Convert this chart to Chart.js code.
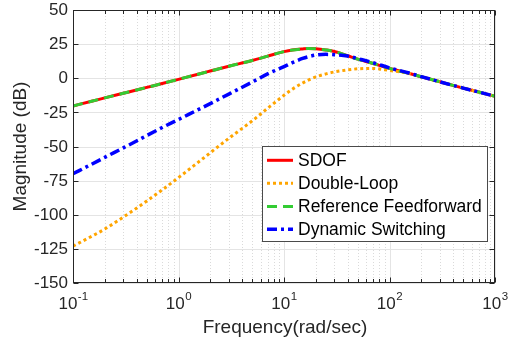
<!DOCTYPE html>
<html><head><meta charset="utf-8">
<script src="https://cdn.jsdelivr.net/npm/chart.js@4"></script>
<style>html,body{margin:0;padding:0;background:#fff}#wrap{width:519px;height:343px}</style>
</head><body><div id="wrap"><canvas id="c" width="519" height="343"></canvas></div>
<script>
// ---- data ----
const freq = [0.1,0.15,0.2,0.3,0.4,0.5,0.7,1,1.5,2,3,5,7,10,12,15,17,20,25,30,40,50,70,100,150,200,300,500,700,1000];
const sdof = [-20.3,-16.9,-14.4,-11.0,-8.6,-6.7,-3.9,-0.8,2.8,5.3,8.8,13.0,16.2,19.5,20.7,21.5,21.8,21.6,20.7,19.6,16.5,14.0,10.8,7.2,3.8,1.1,-2.6,-7.2,-10.1,-13.2];
const doubleLoop = [-123,-115.8,-110.5,-101.7,-95.2,-90,-81.8,-72.8,-62.2,-54.6,-44,-31.2,-22,-12.5,-8,-3.5,-1.3,1.0,3.2,4.6,6.1,6.9,7.2,5.7,3.7,1.1,-2.6,-7.2,-10.1,-13.2];
const refFF = [-20.3,-16.9,-14.4,-11.0,-8.6,-6.7,-3.9,-0.8,2.8,5.3,8.8,13.0,16.2,19.5,20.7,21.5,21.8,21.6,20.7,19.6,16.5,14.0,10.8,7.2,3.8,1.1,-2.6,-7.2,-10.1,-13.2];
const dynSwitch = [-70,-63,-58,-51,-46,-42,-36.1,-30.2,-23.4,-18.6,-11.6,-2.8,3.2,8.5,11.4,14.5,15.8,17.0,17.5,17.3,16.3,14.4,11.4,7.6,4.0,1.2,-2.6,-7.2,-10.1,-13.2];
const seriesNames = ['SDOF','Double-Loop','Reference Feedforward','Dynamic Switching'];
const xTickValues = [0.1,1,10,100,1000];
const xTickExponents = ['-1','0','1','2','3'];
const yTickValues = [-150,-125,-100,-75,-50,-25,0,25,50];
const xTitle = 'Frequency(rad/sec)';
const yTitle = 'Magnitude (dB)';

const FONT = '"Liberation Sans", Arial, Helvetica, sans-serif';
const AX = '#262626';
const pts = arr => freq.map((f,i)=>({x:f,y:arr[i]}));

const frame = {
  id:'frame',
  beforeDatasetsDraw(chart){
    const {ctx, chartArea:a, scales:{x,y}} = chart;
    ctx.save();
    ctx.lineWidth = 1;
    const vline = (px,col,dash)=>{ctx.strokeStyle=col;ctx.setLineDash(dash);ctx.beginPath();ctx.moveTo(px,a.top);ctx.lineTo(px,a.bottom);ctx.stroke();};
    for (let e=-1;e<3;e++) for (let m=2;m<10;m++){
      const px = Math.round(x.getPixelForValue(m*Math.pow(10,e)))+0.5;
      vline(px,'#dadada',[1,2]);
    }
    xTickValues.forEach(v=>vline(Math.round(x.getPixelForValue(v))+0.5,'#e4e4e4',[]));
    ctx.setLineDash([]);
    ctx.strokeStyle='#e4e4e4';
    yTickValues.forEach(v=>{
      const py = Math.round(y.getPixelForValue(v))+0.5;
      ctx.beginPath();ctx.moveTo(a.left,py);ctx.lineTo(a.right,py);ctx.stroke();
    });
    ctx.restore();
  },
  afterDraw(chart){
    const {ctx, chartArea:a, scales:{x,y}} = chart;
    ctx.save();
    ctx.strokeStyle = AX; ctx.lineWidth = 1; ctx.setLineDash([]);
    const L=Math.round(a.left)+0.5, R=Math.round(a.right)-0.5, T=Math.round(a.top)+0.5, B=Math.round(a.bottom)-0.5;
    ctx.strokeRect(L,T,R-L,B-T);
    // x ticks (inward, top and bottom)
    ctx.beginPath();
    for (let e=-1;e<=3;e++) for (let m=1;m<10;m++){
      const v = m*Math.pow(10,e); if (v>1000.0001) break;
      const px = Math.round(x.getPixelForValue(v))+0.5;
      const len = m===1?5:3.5;
      ctx.moveTo(px,B);ctx.lineTo(px,B-len);
      ctx.moveTo(px,T);ctx.lineTo(px,T+len);
    }
    yTickValues.forEach(v=>{
      const py = Math.round(y.getPixelForValue(v))+0.5;
      ctx.moveTo(L,py);ctx.lineTo(L+5,py);
      ctx.moveTo(R,py);ctx.lineTo(R-5,py);
    });
    ctx.stroke();
    // y tick labels
    ctx.fillStyle = AX;
    ctx.font = '17px '+FONT;
    ctx.textAlign='right'; ctx.textBaseline='middle';
    yTickValues.forEach(v=>ctx.fillText(String(v),68,y.getPixelForValue(v)+0.5));
    // x tick labels 10^n
    ctx.textAlign='left'; ctx.textBaseline='alphabetic';
    xTickValues.forEach((v,i)=>{
      const px = x.getPixelForValue(v);
      ctx.font = '17px '+FONT; const w1 = ctx.measureText('10').width;
      ctx.font = '11.5px '+FONT; const w2 = ctx.measureText(xTickExponents[i]).width;
      const x0 = px-(w1+w2)/2;
      ctx.font = '17px '+FONT; ctx.fillText('10',x0,309);
      ctx.font = '11.5px '+FONT; ctx.fillText(xTickExponents[i],x0+w1+0.5,300);
    });
    // axis titles
    ctx.font = '19px '+FONT;
    ctx.textAlign='center'; ctx.textBaseline='alphabetic';
    ctx.fillText(xTitle,(a.left+a.right)/2+1,333);
    ctx.save();
    ctx.translate(26,(a.top+a.bottom)/2);
    ctx.rotate(-Math.PI/2);
    ctx.fillText(yTitle,0,0);
    ctx.restore();
    // legend
    const lx=262.5, ly=146.5, lw=225, lh=95;
    ctx.fillStyle='#fff'; ctx.fillRect(lx,ly,lw,lh);
    ctx.strokeStyle='#4a4a4a'; ctx.lineWidth=1; ctx.strokeRect(lx,ly,lw,lh);
    const rows=[160.3,183.3,206.5,229.3];
    ctx.font='17.5px '+FONT; ctx.textAlign='left'; ctx.textBaseline='middle';
    chart.data.datasets.forEach((ds,i)=>{
      ctx.save();
      ctx.strokeStyle=ds.borderColor; ctx.lineWidth=ds.borderWidth;
      ctx.setLineDash(ds.borderDash||[]);
      ctx.beginPath();ctx.moveTo(267,rows[i]);ctx.lineTo(293,rows[i]);ctx.stroke();
      ctx.restore();
      ctx.fillStyle='#000';
      ctx.fillText(seriesNames[i],298,rows[i]+0.5);
    });
    ctx.restore();
  }
};

new Chart(document.getElementById('c'),{
  type:'line',
  data:{datasets:[
    {label:seriesNames[0],data:pts(sdof),borderColor:'#ff0000',borderWidth:3,borderDash:[],order:4},
    {label:seriesNames[1],data:pts(doubleLoop),borderColor:'#ffa500',borderWidth:3,borderDash:[3,3],order:3},
    {label:seriesNames[2],data:pts(refFF),borderColor:'#33cc33',borderWidth:3,borderDash:[10,6],order:2},
    {label:seriesNames[3],data:pts(dynSwitch),borderColor:'#0000ff',borderWidth:3.5,borderDash:[10,4,3,4],order:1}
  ]},
  options:{
    responsive:false, devicePixelRatio:1, animation:false,
    layout:{padding:{left:73,right:24,top:10,bottom:60}},
    elements:{point:{radius:0},line:{cubicInterpolationMode:'monotone',fill:false}},
    scales:{
      x:{type:'logarithmic',min:0.1,max:1000,display:false},
      y:{type:'linear',min:-150,max:50,display:false}
    },
    plugins:{legend:{display:false},tooltip:{enabled:false}}
  },
  plugins:[frame]
});
</script></body></html>
